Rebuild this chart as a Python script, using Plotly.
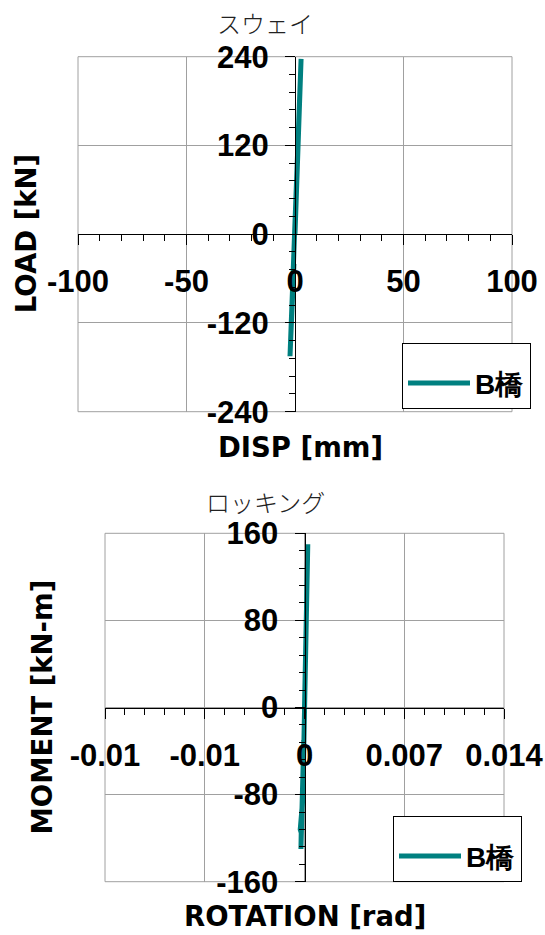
import plotly.graph_objects as go

# ---------------- data ----------------
sway_disp = [0, 0.6, 1.0, 0.4, -0.3, -0.8, -1.2, -0.6, 0.1, 0.9, 1.4, 0.8, 1.6, 2.2, 2.8,
             2.0, 0.8, -0.2, -1.0, -1.6, -2.0, -1.4, -2.3, -1.5, -0.5]
sway_load = [0, 50, 95, 40, -20, -60, -95, -50, 10, 80, 118, 100, 135, 185, 237,
             170, 80, 0, -70, -120, -135, -118, -165, -110, -40]

rock_rot = [0, 0.00005, 0.0001, 0.00003, -0.00005, -0.0001, -0.00004, 0.00002, 0.0001,
            0.00016, 0.00023, 0.00014, 0.00004, -0.00006, -0.00012, -0.00030, -0.00023,
            -0.00025, -0.00015, -0.00005]
rock_mom = [0, 30, 60, 25, -20, -50, -20, 10, 60, 110, 150, 90, 30, -30, -84, -112, -115,
            -130, -80, -30]

series_name = "B橋"
top_title = "スウェイ"
bottom_title = "ロッキング"
top_xlabel = "DISP [mm]"
top_ylabel = "LOAD [kN]"
bot_xlabel = "ROTATION [rad]"
bot_ylabel = "MOMENT [kN-m]"

top_xticks = [-100, -50, 0, 50, 100]
top_xticktext = ["-100", "-50", "0", "50", "100"]
top_yticks = [-240, -120, 0, 120, 240]
top_yticktext = ["-240", "-120", "0", "120", "240"]
bot_xticks = [-0.014, -0.007, 0, 0.007, 0.014]
bot_xticktext = ["-0.01", "-0.01", "0", "0.007", "0.014"]
bot_yticks = [-160, -80, 0, 80, 160]
bot_yticktext = ["-160", "-80", "0", "80", "160"]

# ---------------- layout geometry ----------------
W, H = 545, 935
TEAL = "#008080"
GRID = "#a0a0a0"
SANS = "Liberation Sans, Arial, sans-serif"
TICK_FONT = dict(family=SANS, size=31, color="black", weight="bold")

x1dom = [78 / W, 512 / W]
y1dom = [1 - 411.7 / H, 1 - 56.7 / H]
x2dom = [105 / W, 504 / W]
y2dom = [1 - 881.7 / H, 1 - 533.3 / H]

def mid(d):
    return (d[0] + d[1]) / 2

fig = go.Figure()
fig.add_trace(go.Scatter(x=sway_disp, y=sway_load, mode="lines", name=series_name,
                         line=dict(color=TEAL, width=5), xaxis="x", yaxis="y",
                         legend="legend"))
fig.add_trace(go.Scatter(x=rock_rot, y=rock_mom, mode="lines", name=series_name,
                         line=dict(color=TEAL, width=5), xaxis="x2", yaxis="y2",
                         legend="legend2"))

def xaxis_cfg(dom, ypos, rng, tickvals, ticktext, minor_dtick):
    return dict(domain=dom, range=rng, anchor="free", position=ypos, side="bottom",
                automargin=False,
                tickmode="array", tickvals=tickvals, ticktext=ticktext,
                showgrid=True, gridcolor=GRID, gridwidth=1, zeroline=False,
                showline=True, linecolor="black", linewidth=1,
                ticks="outside", ticklen=10, tickwidth=1, tickcolor="black",
                minor=dict(dtick=minor_dtick, tick0=rng[0], ticks="outside", ticklen=6,
                           tickwidth=1, tickcolor="black", showgrid=False),
                tickfont=TICK_FONT, ticklabelstandoff=10, fixedrange=True)

def yaxis_cfg(dom, xpos, rng, tickvals, ticktext, minor_dtick):
    return dict(domain=dom, range=rng, anchor="free", position=xpos, side="left",
                automargin=False,
                tickmode="array", tickvals=tickvals, ticktext=ticktext,
                showgrid=True, gridcolor=GRID, gridwidth=1, zeroline=False,
                showline=True, linecolor="black", linewidth=1,
                ticks="outside", ticklen=10, tickwidth=1, tickcolor="black",
                minor=dict(dtick=minor_dtick, tick0=rng[0], ticks="outside", ticklen=6,
                           tickwidth=1, tickcolor="black", showgrid=False),
                tickfont=TICK_FONT, ticklabelstandoff=10, fixedrange=True)

LEG_FONT = dict(family=SANS, size=28, color="black", weight="bold")
LEG_TITLE = dict(text="\u00a0", font=dict(family=SANS, size=11, color="white"))
fig.update_layout(
    width=W, height=H, margin=dict(l=0, r=0, t=0, b=0, pad=0, autoexpand=False),
    paper_bgcolor="white", plot_bgcolor="white",
    xaxis=xaxis_cfg(x1dom, mid(y1dom), [-100, 100], top_xticks, top_xticktext, 10),
    yaxis=yaxis_cfg(y1dom, mid(x1dom), [-240, 240], top_yticks, top_yticktext, 24),
    xaxis2=xaxis_cfg(x2dom, mid(y2dom), [-0.014, 0.014], bot_xticks, bot_xticktext, 0.0014),
    yaxis2=yaxis_cfg(y2dom, mid(x2dom), [-160, 160], bot_yticks, bot_yticktext, 16),
    legend=dict(x=402 / W, y=1 - 343 / H, xanchor="left", yanchor="top",
                bgcolor="white", bordercolor="black", borderwidth=1,
                font=LEG_FONT, itemwidth=62, title=LEG_TITLE),
    legend2=dict(x=393 / W, y=1 - 816 / H, xanchor="left", yanchor="top",
                 bgcolor="white", bordercolor="black", borderwidth=1,
                 font=LEG_FONT, itemwidth=62, title=LEG_TITLE),
    showlegend=True,
)

# plot-area borders
for xr, yr in (("x domain", "y domain"), ("x2 domain", "y2 domain")):
    fig.add_shape(type="rect", xref=xr, yref=yr, x0=0, x1=1, y0=0, y1=1,
                  line=dict(color=GRID, width=1), layer="below")

TITLE_FONT = dict(family="Noto Sans CJK JP", size=24, color="#222222", weight=300)
fig.add_annotation(text=top_title, xref="paper", yref="paper", x=265 / W, y=1 - 22 / H,
                   showarrow=False, font=TITLE_FONT, xanchor="center", yanchor="middle")
fig.add_annotation(text=bottom_title, xref="paper", yref="paper", x=265 / W, y=1 - 501 / H,
                   showarrow=False, font=TITLE_FONT, xanchor="center", yanchor="middle")

AX_FONT = dict(family="DejaVu Sans, Liberation Sans, sans-serif", size=27.5,
               color="black", weight="bold")
fig.add_annotation(text=top_xlabel, xref="paper", yref="paper", x=300 / W, y=1 - 447 / H,
                   showarrow=False, font=AX_FONT, xanchor="center", yanchor="middle")
fig.add_annotation(text=bot_xlabel, xref="paper", yref="paper", x=304.5 / W, y=1 - 916 / H,
                   showarrow=False, font=AX_FONT, xanchor="center", yanchor="middle")
fig.add_annotation(text=top_ylabel, xref="paper", yref="y domain", x=26 / W, y=0.5,
                   showarrow=False, font=AX_FONT, textangle=-90,
                   xanchor="center", yanchor="middle")
fig.add_annotation(text=bot_ylabel, xref="paper", yref="y2 domain", x=41 / W, y=0.5,
                   showarrow=False, font=AX_FONT, textangle=-90,
                   xanchor="center", yanchor="middle")

fig.write_html("out.html")
